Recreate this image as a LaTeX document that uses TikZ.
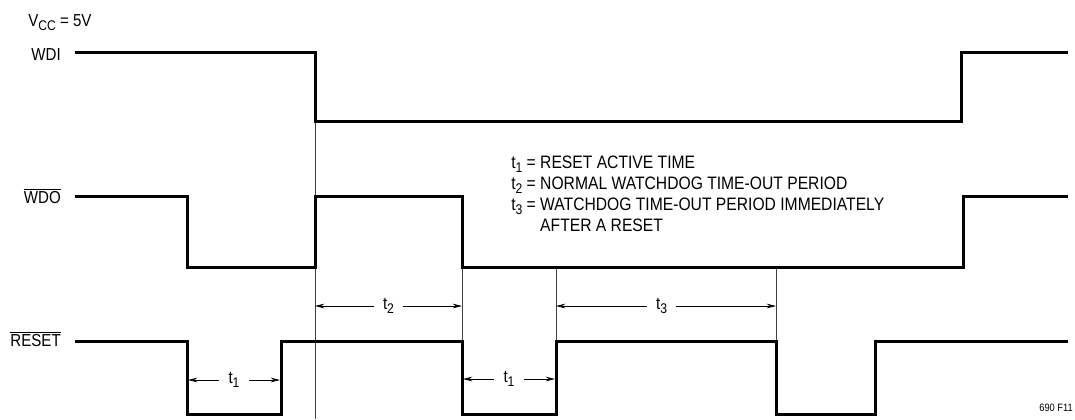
\documentclass[tikz,border=0pt]{standalone}
\usepackage{fontspec}
\setmainfont[FakeStretch=0.87]{Liberation Sans}
\usetikzlibrary{arrows.meta}

\newcommand\lowsub[1]{\raisebox{-0.45ex}{\fontsize{10.5}{10.5}\selectfont #1}}

\tikzset{
  wave/.style={line width=2.25pt, line join=miter},
  guide/.style={line width=0.5pt, black!75},
  dim/.style={line width=0.5pt, {Stealth[length=7pt,width=3.5pt]}-{Stealth[length=7pt,width=3.5pt]}},
  tlabel/.style={fill=white, inner xsep=7pt, inner ysep=1pt},
  siglabel/.style={anchor=base east, inner sep=0pt},
}

\begin{document}
\begin{tikzpicture}[x=0.75pt, y=-0.75pt, font=\fontsize{13}{15.75}\selectfont]

    \useasboundingbox (0,0) rectangle (1075,419);

    \node[anchor=base west, inner sep=0pt] (vcc) at (28,26) {V\lowsub{CC} = 5V};
    \node[siglabel] (wdi) at (61,60) {WDI};
    \node[siglabel] (wdo) at (61,203) {$\overline{\mbox{WDO}}$};
    \node[siglabel] (rst) at (61,346) {$\overline{\mbox{RESET}}$};

    \draw[guide] (315,121) -- (315,419);
    \draw[guide] (462,267) -- (462,341);
    \draw[guide] (556,267) -- (556,341);
    \draw[guide] (776,267) -- (776,341);

    \draw[wave] (75,52) -- (315,52) -- (315,121) -- (961,121) -- (961,52) -- (1068,52);
    \draw[wave] (75,196) -- (187,196) -- (187,267) -- (315,267) -- (315,196) -- (462,196)
        -- (462,267) -- (963,267) -- (963,196) -- (1068,196);
    \draw[wave] (75,341) -- (187,341) -- (187,414) -- (281,414) -- (281,341) -- (462,341)
        -- (462,414) -- (556,414) -- (556,341) -- (776,341) -- (776,414) -- (875,414)
        -- (875,341) -- (1068,341);

    \coordinate (a1) at (188,380);
    \coordinate (b1) at (280,380);
    \coordinate (a2) at (315,306);
    \coordinate (b2) at (462,306);
    \coordinate (a3) at (463,379);
    \coordinate (b3) at (555,379);
    \coordinate (a4) at (556,306);
    \coordinate (b4) at (776,306);

    \draw[dim] (a1) -- (b1) node[midway, tlabel] (t1a) {t\lowsub{1}};
    \draw[dim] (a2) -- (b2) node[midway, tlabel] (t2) {t\lowsub{2}};
    \draw[dim] (a3) -- (b3) node[midway, tlabel] (t1b) {t\lowsub{1}};
    \draw[dim] (a4) -- (b4) node[pos=0.48, tlabel] (t3) {t\lowsub{3}};

    \node[anchor=base west, inner sep=0pt, font=\fontsize{13.5}{15.75}\selectfont] (legend) at (511,168) {%
        \begin{tabular}[t]{@{}l@{}l@{}}
            t\lowsub{1} = & \ RESET ACTIVE TIME\\
            t\lowsub{2} = & \ NORMAL WATCHDOG TIME-OUT PERIOD\\
            t\lowsub{3} = & \ WATCHDOG TIME-OUT PERIOD IMMEDIATELY\\
                          & \ AFTER A RESET
        \end{tabular}};

    \node[anchor=base east, inner sep=0pt, font=\fontsize{8}{8}\selectfont] (fig) at (1073,411) {690 F11};

\end{tikzpicture}
\end{document}
